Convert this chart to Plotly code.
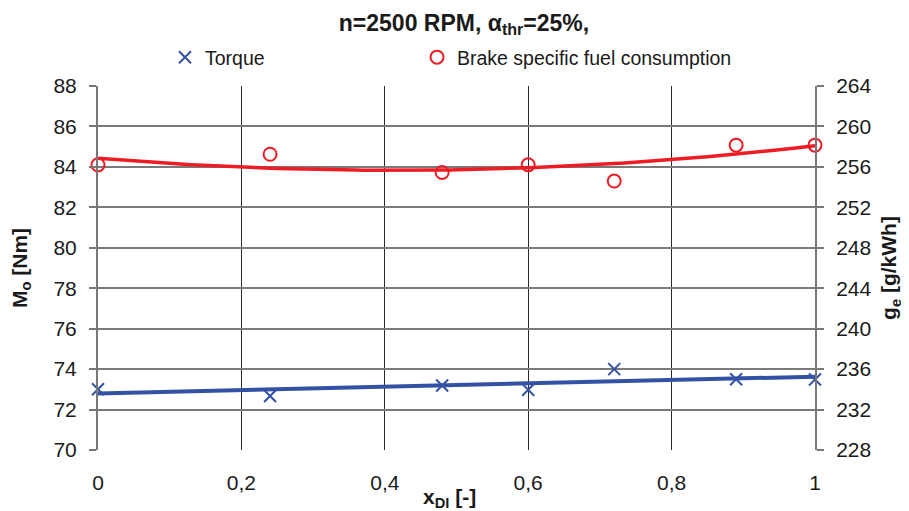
import numpy as np
import plotly.graph_objects as go

# Data
x_di = [0.0, 0.24, 0.48, 0.60, 0.72, 0.89, 1.0]
torque = [73.0, 72.67, 73.19, 72.98, 74.0, 73.5, 73.49]          # Nm (left axis)
bsfc = [256.2, 257.25, 255.45, 256.2, 254.6, 258.15, 258.15]     # g/kWh (right axis)

x_ticks = [0, 0.2, 0.4, 0.6, 0.8, 1.0]

# Excel-style trend lines derived from the data
xs = np.linspace(0, 1, 101)
t_fit = np.polyval(np.polyfit(x_di, torque, 1), xs)
b_fit = np.polyval(np.polyfit(x_di, bsfc, 2), xs)

FONT = "Liberation Sans, Arial, sans-serif"
BLUE = "#3352A6"
RED = "#EE1C25"
TXT = "#1a1a1a"

# the page body adds an 8px offset, so the figure is drawn 8px smaller
W, H = 901, 503
OFF = 8
ML, MR, MT, MB = 98 - OFF, 94, 86 - OFF, 61
PW, PH = W - ML - MR, H - MT - MB

fig = go.Figure()

fig.add_trace(go.Scatter(x=xs, y=t_fit, mode="lines", line=dict(color=BLUE, width=4),
                         showlegend=False, hoverinfo="skip", yaxis="y"))
fig.add_trace(go.Scatter(x=xs, y=b_fit, mode="lines", line=dict(color=RED, width=3.5),
                         showlegend=False, hoverinfo="skip", yaxis="y2"))
fig.add_trace(go.Scatter(x=x_di, y=torque, mode="markers", name="Torque", legend="legend",
                         marker=dict(symbol="x-thin-open", size=12, color=BLUE,
                                     line=dict(color=BLUE, width=2)),
                         cliponaxis=False, yaxis="y"))
fig.add_trace(go.Scatter(x=x_di, y=bsfc, mode="markers", name="Brake specific fuel consumption",
                         legend="legend2",
                         marker=dict(symbol="circle-open", size=13, color=RED,
                                     line=dict(color=RED, width=2)),
                         cliponaxis=False, yaxis="y2"))

leg_common = dict(orientation="h", xref="container", yref="container", xanchor="left",
                  yanchor="middle", y=1 - (57.5 - OFF) / H, itemwidth=30,
                  bgcolor="rgba(0,0,0,0)", font=dict(family=FONT, size=19.5, color=TXT))

fig.update_layout(
    width=W, height=H,
    margin=dict(l=ML, r=MR, t=MT, b=MB, autoexpand=False),
    paper_bgcolor="white", plot_bgcolor="white",
    separators=", ",
    font=dict(family=FONT, size=21, color=TXT),
    title=dict(text="<b>n=2500 RPM, α<sub>thr</sub>=25%,</b>", x=(464 - OFF) / W, xanchor="center",
               xref="container", y=1 - (22.5 - OFF) / H, yref="container", yanchor="middle",
               font=dict(family=FONT, size=23, color=TXT)),
    legend=dict(x=(165 - OFF) / W, **leg_common),
    legend2=dict(x=(417 - OFF) / W, **leg_common),
    xaxis=dict(range=[0, 1], tickvals=x_ticks, showgrid=True, gridcolor="#2a2a2a", gridwidth=1,
               zeroline=False, showline=False, ticks="", ticklabelstandoff=18,
               tickfont=dict(size=21), automargin=False),
    yaxis=dict(range=[70, 88], dtick=2, showgrid=True, gridcolor="#7a7a7a", gridwidth=2,
               zeroline=False, showline=True, linecolor="#777777", linewidth=2,
               ticks="outside", ticklen=7, tickcolor="#777777", tickwidth=2,
               ticklabelstandoff=8, tickfont=dict(size=21), automargin=False,
               title=dict(text="<b>M<sub>o</sub> [Nm]</b>", standoff=20, font=dict(size=21))),
    yaxis2=dict(range=[228, 264], dtick=4, overlaying="y", side="right", anchor="x",
                showgrid=False, zeroline=False, showline=True, linecolor="#777777", linewidth=2,
                ticks="outside", ticklen=7, tickcolor="#777777", tickwidth=2,
                ticklabelstandoff=8, tickfont=dict(size=21), automargin=False,
                title=dict(text="<b>g<sub>e</sub> [g/kWh]</b>", standoff=11, font=dict(size=21))),
    annotations=[dict(text="<b>x<sub>DI</sub> [-]</b>", xref="paper", yref="paper",
                      x=(449 - OFF - ML) / PW, y=-((498 - OFF) - (MT + PH)) / PH,
                      xanchor="center", yanchor="middle",
                      showarrow=False, font=dict(family=FONT, size=21, color=TXT))],
)

fig.write_html("out.html")
